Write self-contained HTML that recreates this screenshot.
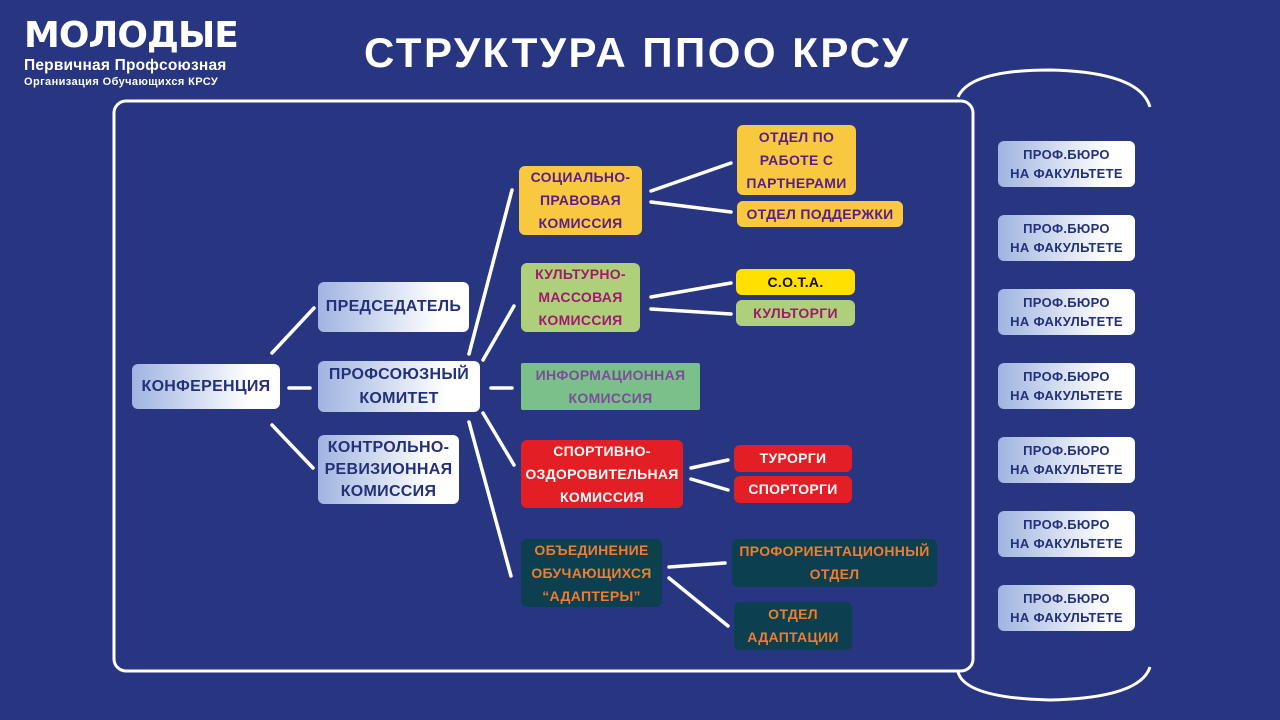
<!DOCTYPE html>
<html><head><meta charset="utf-8"><style>
*{margin:0;padding:0;box-sizing:border-box}
body{width:1280px;height:720px;overflow:hidden;background:#283580;font-family:"Liberation Sans","DejaVu Sans",sans-serif;position:relative}
.b{position:absolute;display:flex;align-items:center;justify-content:center;text-align:center;font-weight:bold;border-radius:6px;line-height:23px;font-size:14px;letter-spacing:0.3px}
.w{background:linear-gradient(90deg,#9fb4e0,#ffffff 80%);color:#23307a;font-size:16px;line-height:24px}
.p{background:linear-gradient(90deg,#9fb4e0,#ffffff 80%);color:#23307a;font-size:13px;line-height:19px;left:998px;width:137px;height:46px}
.y{background:#f8c93f;color:#5a1d8c}
.g{background:#afd07a;color:#9e1a6e}
.r{background:#e31e24;color:#fff}
.t{background:#0c3f4f;color:#ef7d2f}
</style></head><body>
<div style="position:absolute;left:24px;top:16px;color:#fff;font-weight:bold;font-size:36px;letter-spacing:-1px;line-height:40px;font-family:'DejaVu Sans',sans-serif">МОЛОДЫЕ</div>
<div style="position:absolute;left:24px;top:57px;color:#fff;font-weight:bold;font-size:15.5px;letter-spacing:0.2px">Первичная Профсоюзная</div>
<div style="position:absolute;left:24px;top:76px;color:#fff;font-weight:bold;font-size:11px;letter-spacing:0.4px">Организация Обучающихся КРСУ</div>
<div style="position:absolute;left:364px;top:29px;color:#fff;font-weight:bold;font-size:42px;letter-spacing:2.5px">СТРУКТУРА ППОО КРСУ</div>
<svg width="1280" height="720" style="position:absolute;left:0;top:0">
<rect x="114" y="101" width="859" height="570" rx="12" fill="none" stroke="#fff" stroke-width="3"/>
<path d="M958 97 Q970 70 1050 70 Q1140 72 1150 107" fill="none" stroke="#fff" stroke-width="3"/>
<path d="M958 672 Q965 698 1050 700 Q1140 698 1150 667" fill="none" stroke="#fff" stroke-width="3"/>
<g stroke="#fff" stroke-width="3.5" stroke-linecap="round">
<line x1="272" y1="353" x2="314" y2="308"/>
<line x1="289" y1="388" x2="310" y2="388"/>
<line x1="272" y1="425" x2="313" y2="468"/>
<line x1="469" y1="354" x2="512" y2="190"/>
<line x1="483" y1="360" x2="514" y2="306"/>
<line x1="491" y1="388" x2="512" y2="388"/>
<line x1="483" y1="413" x2="514" y2="465"/>
<line x1="469" y1="422" x2="511" y2="576"/>
<line x1="651" y1="191" x2="731" y2="163"/>
<line x1="651" y1="202" x2="731" y2="212"/>
<line x1="651" y1="297" x2="731" y2="283"/>
<line x1="651" y1="309" x2="731" y2="314"/>
<line x1="691" y1="468" x2="728" y2="460"/>
<line x1="691" y1="479" x2="728" y2="490"/>
<line x1="669" y1="567" x2="725" y2="563"/>
<line x1="669" y1="578" x2="728" y2="626"/>
</g></svg>
<div class="b w" style="left:132px;top:364px;width:148px;height:45px">КОНФЕРЕНЦИЯ</div>
<div class="b w" style="left:318px;top:282px;width:151px;height:50px">ПРЕДСЕДАТЕЛЬ</div>
<div class="b w" style="left:318px;top:361px;width:162px;height:51px">ПРОФСОЮЗНЫЙ<br>КОМИТЕТ</div>
<div class="b w" style="left:318px;top:435px;width:141px;height:69px;line-height:22px">КОНТРОЛЬНО-<br>РЕВИЗИОННАЯ<br>КОМИССИЯ</div>
<div class="b y" style="left:519px;top:166px;width:123px;height:69px">СОЦИАЛЬНО-<br>ПРАВОВАЯ<br>КОМИССИЯ</div>
<div class="b y" style="left:737px;top:125px;width:119px;height:70px">ОТДЕЛ ПО<br>РАБОТЕ С<br>ПАРТНЕРАМИ</div>
<div class="b y" style="left:737px;top:201px;width:166px;height:26px">ОТДЕЛ ПОДДЕРЖКИ</div>
<div class="b g" style="left:521px;top:263px;width:119px;height:69px">КУЛЬТУРНО-<br>МАССОВАЯ<br>КОМИССИЯ</div>
<div class="b" style="left:736px;top:269px;width:119px;height:26px;background:#ffe000;color:#111">С.О.Т.А.</div>
<div class="b g" style="left:736px;top:300px;width:119px;height:26px">КУЛЬТОРГИ</div>
<div class="b" style="left:521px;top:363px;width:179px;height:47px;background:#7bbf8a;color:#7a4f9a;border-radius:2px">ИНФОРМАЦИОННАЯ<br>КОМИССИЯ</div>
<div class="b r" style="left:521px;top:440px;width:162px;height:68px">СПОРТИВНО-<br>ОЗДОРОВИТЕЛЬНАЯ<br>КОМИССИЯ</div>
<div class="b r" style="left:734px;top:445px;width:118px;height:27px">ТУРОРГИ</div>
<div class="b r" style="left:734px;top:476px;width:118px;height:27px">СПОРТОРГИ</div>
<div class="b t" style="left:521px;top:539px;width:141px;height:68px">ОБЪЕДИНЕНИЕ<br>ОБУЧАЮЩИХСЯ<br>“АДАПТЕРЫ”</div>
<div class="b t" style="left:732px;top:539px;width:205px;height:48px">ПРОФОРИЕНТАЦИОННЫЙ<br>ОТДЕЛ</div>
<div class="b t" style="left:734px;top:602px;width:118px;height:48px">ОТДЕЛ<br>АДАПТАЦИИ</div>
<div class="b p" style="top:141px">ПРОФ.БЮРО<br>НА ФАКУЛЬТЕТЕ</div>
<div class="b p" style="top:215px">ПРОФ.БЮРО<br>НА ФАКУЛЬТЕТЕ</div>
<div class="b p" style="top:289px">ПРОФ.БЮРО<br>НА ФАКУЛЬТЕТЕ</div>
<div class="b p" style="top:363px">ПРОФ.БЮРО<br>НА ФАКУЛЬТЕТЕ</div>
<div class="b p" style="top:437px">ПРОФ.БЮРО<br>НА ФАКУЛЬТЕТЕ</div>
<div class="b p" style="top:511px">ПРОФ.БЮРО<br>НА ФАКУЛЬТЕТЕ</div>
<div class="b p" style="top:585px">ПРОФ.БЮРО<br>НА ФАКУЛЬТЕТЕ</div>
</body></html>
